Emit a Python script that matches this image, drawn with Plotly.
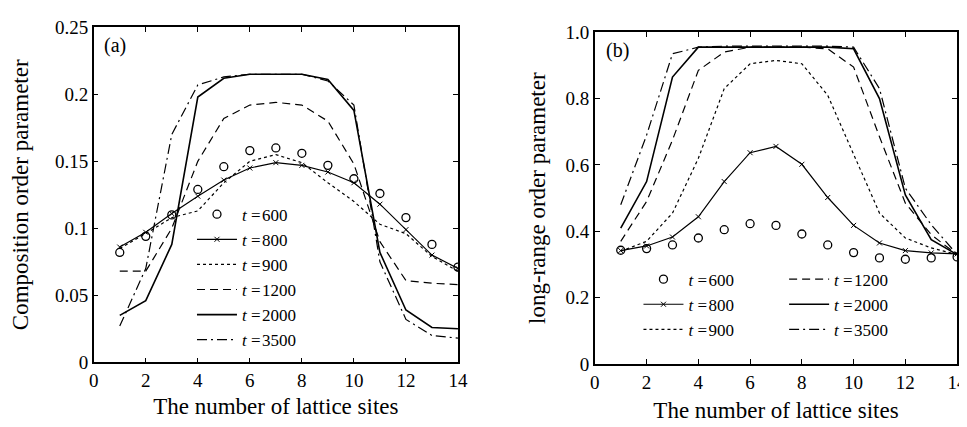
import plotly.graph_objects as go

sites = list(range(1, 15))

# (a) composition order parameter
comp_600 = [0.082, 0.094, 0.110, 0.129, 0.146, 0.158, 0.160, 0.156, 0.147, 0.137, 0.126, 0.108, 0.088, 0.071]
comp_800 = [0.086, 0.097, 0.111, 0.124, 0.136, 0.145, 0.149, 0.147, 0.142, 0.134, 0.118, 0.099, 0.080, 0.070]
comp_900 = [0.085, 0.096, 0.108, 0.113, 0.134, 0.150, 0.155, 0.149, 0.134, 0.120, 0.103, 0.096, 0.079, 0.068]
comp_1200 = [0.068, 0.068, 0.100, 0.150, 0.182, 0.192, 0.194, 0.192, 0.180, 0.148, 0.090, 0.061, 0.059, 0.058]
comp_2000 = [0.035, 0.046, 0.088, 0.198, 0.212, 0.215, 0.215, 0.215, 0.211, 0.188, 0.082, 0.039, 0.026, 0.025]
comp_3500 = [0.027, 0.070, 0.170, 0.207, 0.213, 0.215, 0.215, 0.215, 0.210, 0.192, 0.075, 0.032, 0.020, 0.018]

# (b) long-range order parameter
lro_600 = [0.343, 0.348, 0.359, 0.380, 0.405, 0.423, 0.418, 0.392, 0.359, 0.336, 0.320, 0.316, 0.320, 0.323]
lro_800 = [0.342, 0.356, 0.383, 0.444, 0.550, 0.637, 0.656, 0.602, 0.502, 0.418, 0.365, 0.342, 0.335, 0.332]
lro_900 = [0.340, 0.370, 0.455, 0.620, 0.830, 0.905, 0.915, 0.905, 0.810, 0.630, 0.455, 0.380, 0.350, 0.330]
lro_1200 = [0.370, 0.490, 0.675, 0.885, 0.940, 0.955, 0.955, 0.955, 0.950, 0.895, 0.685, 0.485, 0.390, 0.330]
lro_2000 = [0.410, 0.550, 0.865, 0.955, 0.955, 0.955, 0.955, 0.955, 0.955, 0.950, 0.800, 0.510, 0.375, 0.330]
lro_3500 = [0.480, 0.690, 0.935, 0.955, 0.958, 0.958, 0.958, 0.958, 0.958, 0.955, 0.830, 0.530, 0.420, 0.330]

times = ['600', '800', '900', '1200', '2000', '3500']
FONT = 'Liberation Serif'

# line style per time step
styles = {
    '800': dict(mode='lines+markers', line=dict(color='black', width=1.2),
                marker=dict(symbol='x-thin', size=5, line=dict(color='black', width=1))),
    '900': dict(mode='lines', line=dict(color='black', width=1.2, dash='dot')),
    '1200': dict(mode='lines', line=dict(color='black', width=1.2, dash='8px,5px')),
    '2000': dict(mode='lines', line=dict(color='black', width=1.6)),
    '3500': dict(mode='lines', line=dict(color='black', width=1.2, dash='10px,4px,2px,4px')),
}

fig = go.Figure()

def add_panel(series, xa, ya, legends):
    for t, y, lg in zip(times, series, legends):
        name = f'<i>t</i> =\u200a{t}'
        if t == '600':
            fig.add_trace(go.Scatter(x=sites, y=y, mode='markers', name=name,
                                     marker=dict(symbol='circle-open', size=8, color='black',
                                                 line=dict(width=1.3)),
                                     xaxis=xa, yaxis=ya, legend=lg))
        else:
            fig.add_trace(go.Scatter(x=sites, y=y, name=name, xaxis=xa, yaxis=ya,
                                     legend=lg, **styles[t]))

add_panel([comp_600, comp_800, comp_900, comp_1200, comp_2000, comp_3500], 'x', 'y',
          ['legend'] * 6)
add_panel([lro_600, lro_800, lro_900, lro_1200, lro_2000, lro_3500], 'x2', 'y2',
          ['legend2', 'legend2', 'legend2', 'legend3', 'legend3', 'legend3'])

axis_common = dict(showline=True, linecolor='black', linewidth=1.5, mirror='ticks',
                   ticks='inside', ticklen=5, tickcolor='black', showgrid=False,
                   zeroline=False, tickfont=dict(family=FONT, size=19, color='black'))

leg_common = dict(xanchor='left', yanchor='top', bgcolor='rgba(0,0,0,0)',
                  font=dict(family=FONT, size=17), tracegroupgap=0, itemwidth=40)

fig.update_layout(
    width=967, height=427,
    margin=dict(l=0, r=0, t=0, b=0),
    paper_bgcolor='white', plot_bgcolor='white',
    font=dict(family=FONT, size=19, color='black'),
    showlegend=True,
    xaxis=dict(domain=[0.0848, 0.4674], range=[0, 14], dtick=2, anchor='y',
               title=dict(text='The number of lattice sites', standoff=8), **axis_common),
    yaxis=dict(domain=[0.152, 0.977], range=[0, 0.25], dtick=0.05, anchor='x',
               title=dict(text='Composition order parameter', standoff=21), **axis_common),
    xaxis2=dict(domain=[0.6112, 0.9917], range=[0, 14], dtick=2, anchor='y2',
                title=dict(text='The number of lattice sites', standoff=10), **axis_common),
    yaxis2=dict(domain=[0.1475, 0.965], range=[0, 1], anchor='x2',
                tickvals=[0, 0.2, 0.4, 0.6, 0.8, 1.0],
                ticktext=['0', '0.2', '0.4', '0.6', '0.8', '1.0'],
                title=dict(text='long-range order parameter', standoff=14), **axis_common),
    legend=dict(x=0.188, y=0.56, **leg_common),
    legend2=dict(x=0.657, y=0.40, **leg_common),
    legend3=dict(x=0.81, y=0.40, **leg_common),
    annotations=[
        dict(text='(a)', x=0.093, y=0.965, xref='paper', yref='paper', xanchor='left',
             yanchor='top', showarrow=False, font=dict(family=FONT, size=20)),
        dict(text='(b)', x=0.621, y=0.952, xref='paper', yref='paper', xanchor='left',
             yanchor='top', showarrow=False, font=dict(family=FONT, size=20)),
    ],
)

fig.write_html('out.html')
